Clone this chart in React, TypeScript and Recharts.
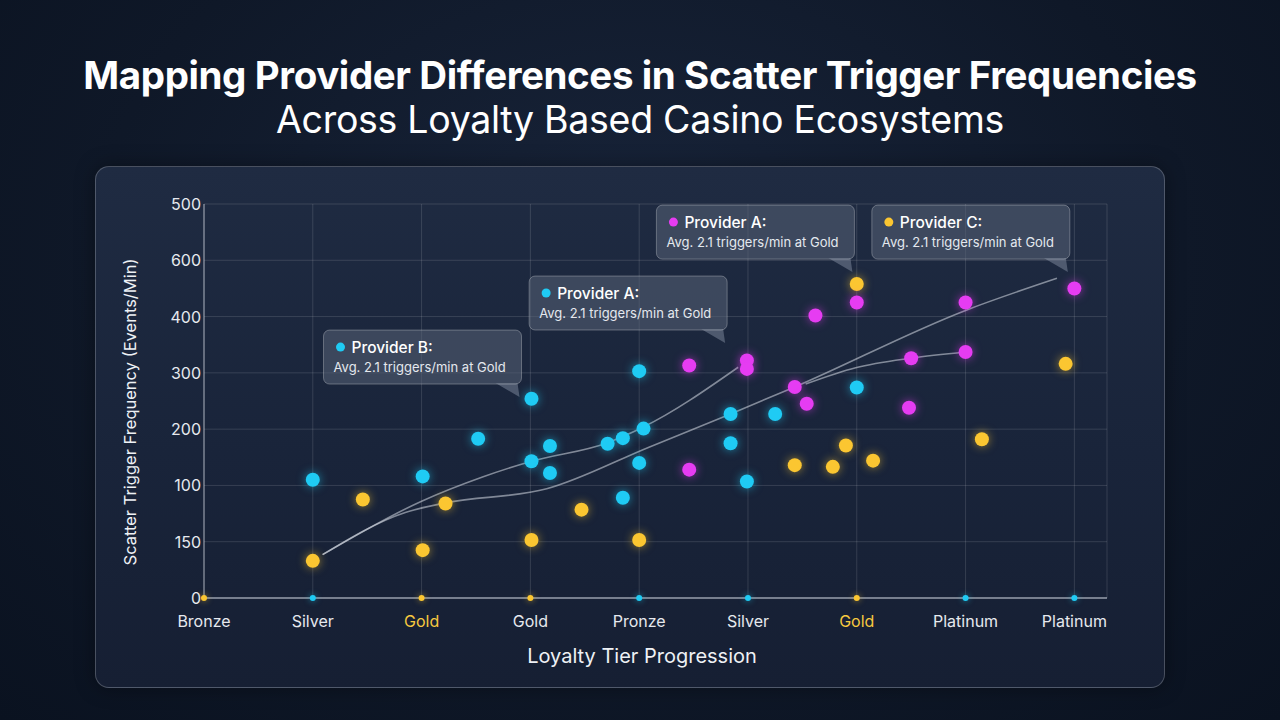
import React from 'react';
import { ComposedChart, Scatter, Line, XAxis, YAxis, CartesianGrid, ReferenceDot } from 'recharts';

// tier categories along the x axis (index = position)
const tierLabels = ['Bronze', 'Silver', 'Gold', 'Gold', 'Pronze', 'Silver', 'Gold', 'Platinum', 'Platinum'];
const highlightTiers = [2, 6];

// y tick labels, bottom to top
const yTickLabels = ['0', '150', '100', '200', '300', '400', '600', '500'];

const cyanPoints = [
  { x: 1.0, y: 2.1 }, { x: 2.01, y: 2.16 }, { x: 2.52, y: 2.83 }, { x: 3.01, y: 3.54 },
  { x: 3.01, y: 2.43 }, { x: 3.18, y: 2.7 }, { x: 3.18, y: 2.22 }, { x: 3.71, y: 2.74 },
  { x: 3.85, y: 2.84 }, { x: 4.0, y: 4.03 }, { x: 4.04, y: 3.01 }, { x: 4.0, y: 2.4 },
  { x: 3.85, y: 1.78 }, { x: 4.84, y: 3.27 }, { x: 4.84, y: 2.75 }, { x: 4.99, y: 2.07 },
  { x: 5.25, y: 3.27 }, { x: 6.0, y: 3.74 },
];

const magentaPoints = [
  { x: 4.46, y: 4.13 }, { x: 4.46, y: 2.28 }, { x: 4.99, y: 4.22 }, { x: 4.99, y: 4.07 },
  { x: 5.43, y: 3.75 }, { x: 5.54, y: 3.45 }, { x: 5.62, y: 5.02 }, { x: 6.0, y: 5.25 },
  { x: 6.5, y: 4.26 }, { x: 6.48, y: 3.38 }, { x: 7.0, y: 5.25 }, { x: 7.0, y: 4.37 },
  { x: 8.0, y: 5.5 },
];

const yellowPoints = [
  { x: 1.0, y: 0.66 }, { x: 1.46, y: 1.75 }, { x: 2.01, y: 0.85 }, { x: 2.22, y: 1.68 },
  { x: 3.01, y: 1.03 }, { x: 3.47, y: 1.57 }, { x: 4.0, y: 1.03 }, { x: 5.43, y: 2.36 },
  { x: 5.78, y: 2.33 }, { x: 5.9, y: 2.71 }, { x: 6.15, y: 2.44 }, { x: 6.0, y: 5.58 },
  { x: 7.15, y: 2.82 }, { x: 7.92, y: 4.16 },
];

// small markers sitting on the x axis
const baseYellow = [{ x: 0, y: 0 }, { x: 2, y: 0 }, { x: 3, y: 0 }, { x: 6, y: 0 }];
const baseCyan = [{ x: 1, y: 0 }, { x: 4, y: 0 }, { x: 5, y: 0 }, { x: 7, y: 0 }, { x: 8, y: 0 }];

// trend lines
const trendUpper = [
  { x: 1.09, y: 0.77 }, { x: 2.0, y: 1.72 }, { x: 2.56, y: 2.15 }, { x: 3.01, y: 2.43 },
  { x: 3.71, y: 2.76 }, { x: 4.03, y: 3.03 }, { x: 4.91, y: 4.1 },
];
const trendLong = [
  { x: 1.09, y: 0.77 }, { x: 1.85, y: 1.52 }, { x: 2.22, y: 1.69 }, { x: 3.15, y: 1.94 },
  { x: 4.09, y: 2.68 }, { x: 4.84, y: 3.27 }, { x: 5.43, y: 3.75 }, { x: 7.0, y: 5.11 },
  { x: 7.84, y: 5.68 },
];
const trendShort = [
  { x: 5.53, y: 3.8 }, { x: 5.99, y: 4.09 }, { x: 6.5, y: 4.26 }, { x: 7.0, y: 4.37 },
];

const callouts = [
  { title: 'Provider B:', note: 'Avg. 2.1 triggers/min at Gold', series: 'cyan', x: 2.9, y: 3.57 },
  { title: 'Provider A:', note: 'Avg. 2.1 triggers/min at Gold', series: 'cyan', x: 4.79, y: 4.53 },
  { title: 'Provider A:', note: 'Avg. 2.1 triggers/min at Gold', series: 'magenta', x: 5.96, y: 5.79 },
  { title: 'Provider C:', note: 'Avg. 2.1 triggers/min at Gold', series: 'yellow', x: 7.94, y: 5.79 },
];

const COLORS: Record<string, string> = {
  cyan: '#1fcbf4',
  magenta: '#e63cf2',
  yellow: '#fbc631',
};

const FONT = 'Inter, "Noto Sans", sans-serif';

const glowDot = (color: string, r: number) => (props: any) => (
  <circle cx={props.cx} cy={props.cy} r={r} fill={color}
    style={{ filter: `drop-shadow(0 0 ${r > 4 ? 5 : 3}px ${color}99)` }} />
);

const CalloutShape = (c: any) => (props: any) => {
  const { cx, cy } = props;
  const bx = cx - 196;
  const by = cy - 67;
  return (
    <g>
      <path d={`M${cx - 24},${cy - 14} L${cx - 2},${cy - 14} L${cx},${cy} Z`} fill="rgba(120,132,152,0.55)" />
      <rect x={bx} y={by} width={198} height={54} rx={6} fill="rgba(88,99,118,0.55)" stroke="rgba(255,255,255,0.28)" strokeWidth={1} />
      <circle cx={bx + 17} cy={by + 17} r={4.5} fill={COLORS[c.series]} />
      <text x={bx + 28} y={by + 23} fill="#ffffff" fontSize={15.5} fontWeight={500} fontFamily={FONT}>{c.title}</text>
      <text x={bx + 10} y={by + 42} fill="#e4e8ee" fontSize={13} fontFamily={FONT}>{c.note}</text>
    </g>
  );
};

const XTick = (props: any) => {
  const { x, y, payload } = props;
  const i = payload.value;
  return (
    <text x={x} y={y + 27} textAnchor="middle" fontSize={16} fontFamily={FONT}
      fill={highlightTiers.includes(i) ? '#f6c93f' : '#e6e9ee'}>
      {tierLabels[i]}
    </text>
  );
};

const YTick = (props: any) => {
  const { x, y, payload } = props;
  return (
    <text x={x - 1} y={y + 6} textAnchor="end" fontSize={16} fontFamily={FONT} fill="#e6e9ee">
      {yTickLabels[payload.value]}
    </text>
  );
};

export default function App() {
  return (
    <div style={{
      position: 'absolute', left: 0, top: 0, width: 1280, height: 720, overflow: 'hidden',
      background: 'radial-gradient(ellipse at 50% 35%, #18243a 0%, #0f1828 60%, #0a1220 100%)',
      fontFamily: FONT,
    }}>
      <div style={{ position: 'absolute', top: 52, width: 1280, textAlign: 'center', color: '#fff', fontSize: 38.5, fontWeight: 700, letterSpacing: -0.4, whiteSpace: 'nowrap' }}>
        Mapping Provider Differences in Scatter Trigger Frequencies
      </div>
      <div style={{ position: 'absolute', top: 97, width: 1280, textAlign: 'center', color: '#fff', fontSize: 37.5, fontWeight: 400, letterSpacing: -0.3, whiteSpace: 'nowrap' }}>
        Across Loyalty Based Casino Ecosystems
      </div>
      <div style={{
        position: 'absolute', left: 95, top: 166, width: 1070, height: 522, borderRadius: 14,
        background: 'linear-gradient(180deg, #1f2b42 0%, #19243a 55%, #161f33 100%)',
        border: '1px solid rgba(255,255,255,0.22)', boxSizing: 'border-box',
        boxShadow: '0 0 20px rgba(0,0,0,0.35)',
      }} />
      <div style={{ position: 'absolute', left: 0, top: 0 }}>
        <ComposedChart width={1280} height={720} margin={{ top: 204, right: 173, bottom: 0, left: 0 }}>
          <CartesianGrid stroke="rgba(255,255,255,0.13)" strokeWidth={1} />
          <XAxis type="number" dataKey="x" domain={[0, 8.3]} ticks={[0, 1, 2, 3, 4, 5, 6, 7, 8]}
            height={122} tickSize={0} tickLine={false} tick={<XTick />}
            axisLine={{ stroke: 'rgba(220,226,236,0.6)', strokeWidth: 1.5 }} />
          <YAxis type="number" dataKey="y" domain={[0, 7]} ticks={[0, 1, 2, 3, 4, 5, 6, 7]}
            width={204} tickSize={0} tickLine={false} tick={<YTick />}
            axisLine={{ stroke: 'rgba(220,226,236,0.45)', strokeWidth: 1.5 }} />
          <Line data={trendUpper} dataKey="y" type="monotone" stroke="rgba(215,220,230,0.55)" strokeWidth={1.6} dot={false} isAnimationActive={false} />
          <Line data={trendLong} dataKey="y" type="monotone" stroke="rgba(215,220,230,0.55)" strokeWidth={1.6} dot={false} isAnimationActive={false} />
          <Line data={trendShort} dataKey="y" type="monotone" stroke="rgba(215,220,230,0.55)" strokeWidth={1.6} dot={false} isAnimationActive={false} />
          <Scatter data={baseYellow} shape={glowDot(COLORS.yellow, 3)} isAnimationActive={false} />
          <Scatter data={baseCyan} shape={glowDot(COLORS.cyan, 3)} isAnimationActive={false} />
          <Scatter data={yellowPoints} shape={glowDot(COLORS.yellow, 7)} isAnimationActive={false} />
          <Scatter data={cyanPoints} shape={glowDot(COLORS.cyan, 7)} isAnimationActive={false} />
          <Scatter data={magentaPoints} shape={glowDot(COLORS.magenta, 7)} isAnimationActive={false} />
          {callouts.map((c, i) => (
            <ReferenceDot key={i} x={c.x} y={c.y} r={0} ifOverflow="visible" shape={CalloutShape(c)} />
          ))}
        </ComposedChart>
      </div>
      <div style={{
        position: 'absolute', left: 130, top: 412, transform: 'translate(-50%, -50%) rotate(-90deg)',
        whiteSpace: 'nowrap', color: '#eef1f5', fontSize: 16.5,
      }}>
        Scatter Trigger Frequency (Events/Min)
      </div>
      <div style={{
        position: 'absolute', left: 642, top: 656, transform: 'translate(-50%, -50%)',
        whiteSpace: 'nowrap', color: '#eef1f5', fontSize: 20,
      }}>
        Loyalty Tier Progression
      </div>
    </div>
  );
}
